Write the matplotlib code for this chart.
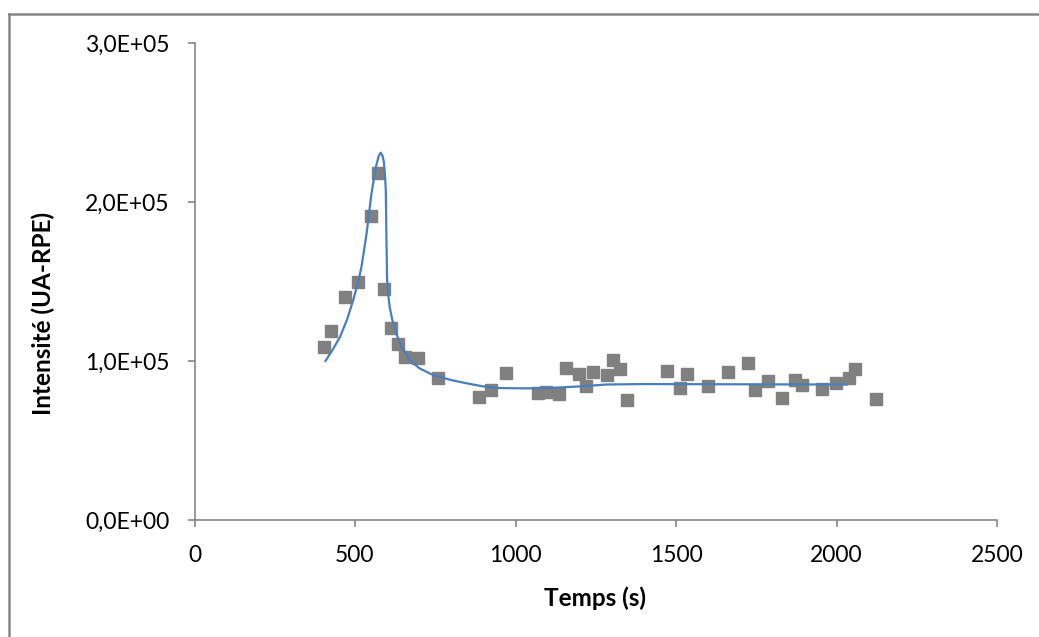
import numpy as np
import matplotlib.pyplot as plt
from matplotlib.lines import Line2D

# measured points (s, UA-RPE)
temps = [404, 425, 468, 509, 549, 571, 590, 611, 633, 655, 695, 758, 885, 925, 970,
         1070, 1096, 1137, 1158, 1199, 1220, 1241, 1284, 1305, 1326, 1347,
         1472, 1514, 1535, 1599, 1661, 1724, 1745, 1788, 1829, 1871, 1892,
         1955, 1997, 2040, 2059, 2123]
intensite = [1.088e5, 1.19e5, 1.40e5, 1.50e5, 1.91e5, 2.18e5, 1.45e5, 1.21e5, 1.11e5, 1.025e5,
             1.02e5, 0.893e5, 0.774e5, 0.818e5, 0.925e5,
             0.80e5, 0.805e5, 0.79e5, 0.958e5, 0.918e5, 0.843e5, 0.929e5, 0.91e5, 1.006e5,
             0.95e5, 0.755e5,
             0.939e5, 0.828e5, 0.92e5, 0.845e5, 0.931e5, 0.985e5, 0.815e5, 0.876e5, 0.765e5,
             0.88e5, 0.847e5, 0.824e5, 0.86e5, 0.891e5, 0.948e5, 0.759e5]

# fitted model curve
fit_t = [408, 430, 453, 475, 494, 510, 520, 536, 551, 565, 574, 580, 586, 590, 594,
         596, 598, 600, 604, 608, 616, 629, 645, 670, 700, 743, 800, 847, 900, 950,
         1022, 1100, 1200, 1282, 1400, 1600, 1800, 2033]
fit_i = [1.00e5, 1.07e5, 1.15e5, 1.26e5, 1.38e5, 1.50e5, 1.59e5, 1.80e5, 2.05e5, 2.22e5,
         2.29e5, 2.31e5, 2.29e5, 2.25e5, 2.15e5, 2.07e5, 1.76e5, 1.51e5, 1.41e5, 1.34e5,
         1.26e5, 1.17e5, 1.09e5, 1.006e5, 0.955e5, 0.912e5, 0.88e5, 0.86e5, 0.84e5, 0.83e5,
         0.828e5, 0.83e5, 0.84e5, 0.852e5, 0.855e5, 0.854e5, 0.853e5, 0.852e5]

y_ticks = [0, 1e5, 2e5, 3e5]
y_labels = ['0,0E+00', '1,0E+05', '2,0E+05', '3,0E+05']
x_ticks = [0, 500, 1000, 1500, 2000, 2500]

plt.rcParams['font.family'] = ['Lato', 'DejaVu Sans']

fig = plt.figure(figsize=(10.39, 6.37), dpi=100)
ax = fig.add_axes([194.5 / 1039, 117 / 637, (997 - 194.5) / 1039, (520 - 43) / 637])

# outer chart border, only top and left edges are in the picture
x0, y0 = 8.5 / 1039, (637 - 14) / 637
fig.lines.append(Line2D([x0, 1.0], [y0, y0], transform=fig.transFigure,
                        color='#868686', linewidth=1.8))
fig.lines.append(Line2D([x0, x0], [0, y0], transform=fig.transFigure,
                        color='#868686', linewidth=1.8))

ax.plot(fit_t, fit_i, color='#4a7ebb', linewidth=1.6, zorder=3)
ax.plot(temps, intensite, linestyle='none', marker='s', markersize=8,
        color='#808080', zorder=2)

ax.set_xlim(0, 2500)
ax.set_ylim(0, 3e5)
ax.set_xticks(x_ticks)
ax.set_xticklabels([str(v) for v in x_ticks], fontsize=16.5)
ax.set_yticks(y_ticks)
ax.set_yticklabels(y_labels, fontsize=16.5)

for s in ['top', 'right']:
    ax.spines[s].set_visible(False)
for s in ['left', 'bottom']:
    ax.spines[s].set_color('#868686')
    ax.spines[s].set_linewidth(1.2)
ax.tick_params(colors='#868686', labelcolor='black', length=5, width=1.2)
ax.tick_params(axis='x', pad=13)
ax.tick_params(axis='y', pad=13)

ax.set_xlabel('Temps (s)', fontsize=17.5, fontweight='bold')
ax.set_ylabel('Intensité (UA-RPE)', fontsize=17.5, fontweight='bold')
ax.xaxis.set_label_coords((595 - 194.5) / (997 - 194.5), -(586 - 520) / (520 - 43))
ax.yaxis.set_label_coords(-(194.5 - 55) / (997 - 194.5), (520 - 313) / (520 - 43))

fig.savefig('out.png', dpi=100)
